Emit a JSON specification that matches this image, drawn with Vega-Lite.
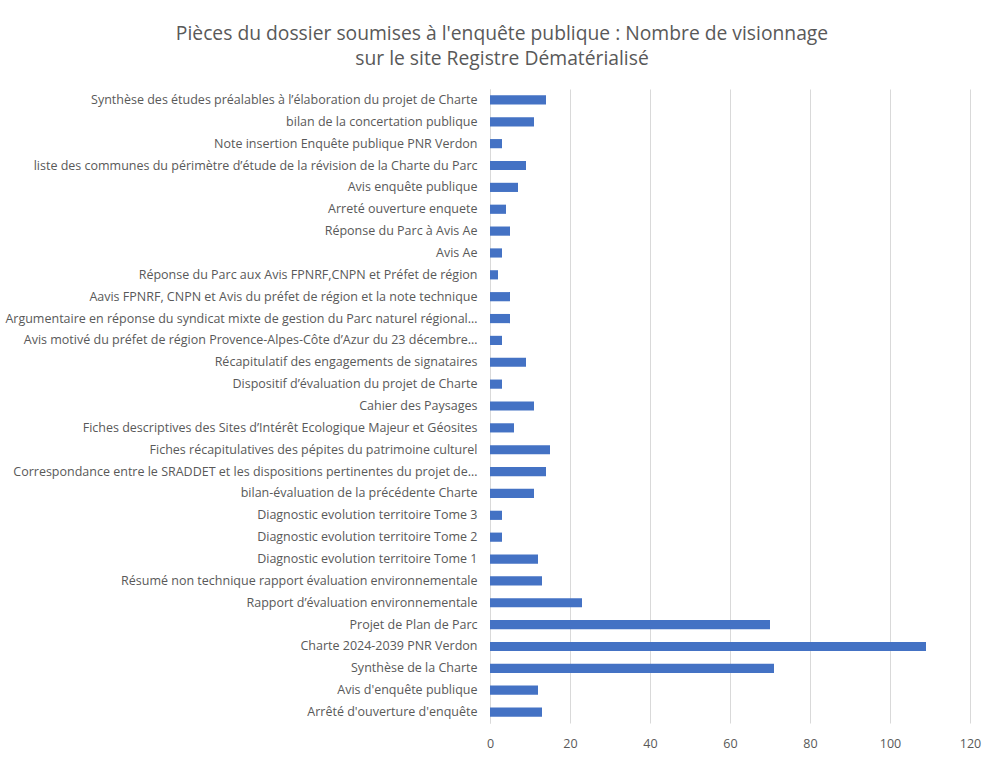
{
  "$schema": "https://vega.github.io/schema/vega-lite/v6.json",
  "autosize": "none",
  "width": 480,
  "height": 634,
  "padding": {"left": 490, "top": 89, "right": 17, "bottom": 35},
  "background": "white",
  "title": {
    "text": ["Pièces du dossier soumises à l'enquête publique : Nombre de visionnage", "sur le site Registre Dématérialisé"],
    "anchor": "middle",
    "dx": -228,
    "offset": 20,
    "font": "Open Sans",
    "fontSize": 19.3,
    "fontWeight": "normal",
    "color": "#595959",
    "lineHeight": 25
  },
  "data": {
    "values": [
      {"piece": "Synthèse des études préalables à l’élaboration du projet de Charte", "vues": 14},
      {"piece": "bilan de la concertation publique", "vues": 11},
      {"piece": "Note insertion Enquête publique PNR Verdon", "vues": 3},
      {"piece": "liste des communes du périmètre d’étude de la révision de la Charte du Parc", "vues": 9},
      {"piece": "Avis enquête publique", "vues": 7},
      {"piece": "Arreté ouverture enquete", "vues": 4},
      {"piece": "Réponse du Parc à Avis Ae", "vues": 5},
      {"piece": "Avis Ae", "vues": 3},
      {"piece": "Réponse du Parc aux Avis FPNRF,CNPN et Préfet de région", "vues": 2},
      {"piece": "Aavis FPNRF, CNPN et Avis du préfet de région et la note technique", "vues": 5},
      {"piece": "Argumentaire en réponse du syndicat mixte de gestion du Parc naturel régional…", "vues": 5},
      {"piece": "Avis motivé du préfet de région Provence-Alpes-Côte d’Azur du 23 décembre…", "vues": 3},
      {"piece": "Récapitulatif des engagements de signataires", "vues": 9},
      {"piece": "Dispositif d’évaluation du projet de Charte", "vues": 3},
      {"piece": "Cahier des Paysages", "vues": 11},
      {"piece": "Fiches descriptives des Sites d’Intérêt Ecologique Majeur et Géosites", "vues": 6},
      {"piece": "Fiches récapitulatives des pépites du patrimoine culturel", "vues": 15},
      {"piece": "Correspondance entre le SRADDET et les dispositions pertinentes du projet de…", "vues": 14},
      {"piece": "bilan-évaluation de la précédente Charte", "vues": 11},
      {"piece": "Diagnostic evolution territoire Tome 3", "vues": 3},
      {"piece": "Diagnostic evolution territoire Tome 2", "vues": 3},
      {"piece": "Diagnostic evolution territoire Tome 1", "vues": 12},
      {"piece": "Résumé non technique rapport évaluation environnementale", "vues": 13},
      {"piece": "Rapport d’évaluation environnementale", "vues": 23},
      {"piece": "Projet de Plan de Parc", "vues": 70},
      {"piece": "Charte 2024-2039 PNR Verdon", "vues": 109},
      {"piece": "Synthèse de la Charte", "vues": 71},
      {"piece": "Avis d'enquête publique", "vues": 12},
      {"piece": "Arrêté d'ouverture d'enquête", "vues": 13}
    ]
  },
  "mark": {"type": "bar", "color": "#4472C4"},
  "encoding": {
    "y": {
      "field": "piece",
      "type": "nominal",
      "sort": null,
      "scale": {"paddingInner": 0.58, "paddingOuter": 0.29},
      "axis": {
        "title": null,
        "ticks": false,
        "domain": true,
        "domainColor": "#D9D9D9",
        "labelFont": "Open Sans",
        "labelFontSize": 12.5,
        "labelColor": "#595959",
        "labelPadding": 13,
        "labelLimit": 480
      }
    },
    "x": {
      "field": "vues",
      "type": "quantitative",
      "scale": {"domain": [0, 120], "nice": false},
      "axis": {
        "title": null,
        "values": [0, 20, 40, 60, 80, 100, 120],
        "ticks": false,
        "domain": false,
        "grid": true,
        "gridColor": "#D9D9D9",
        "labelFlush": false,
        "labelFont": "Open Sans",
        "labelFontSize": 12.5,
        "labelColor": "#595959",
        "labelPadding": 14
      }
    }
  },
  "config": {"view": {"stroke": null}}
}
